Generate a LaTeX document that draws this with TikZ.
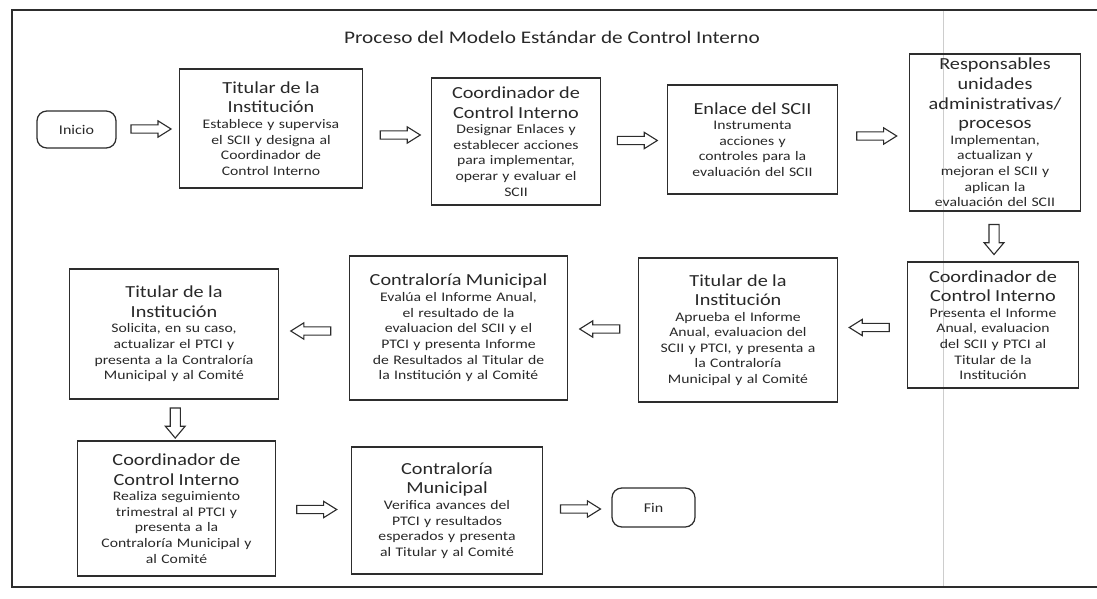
\documentclass[tikz,border=0pt]{standalone}
\usepackage{fontspec}
\setmainfont{Carlito}[FakeStretch=1.2]
\usepackage{tikz}
\usetikzlibrary{calc,shapes.arrows,positioning}
\definecolor{mciInk}{RGB}{40,40,40}
\definecolor{mciLine}{RGB}{45,45,45}
\definecolor{mciScan}{RGB}{205,205,205}
\newcommand{\pasohead}[1]{{\fontsize{12}{13.9}\selectfont #1\par}}

\begin{document}
\begin{tikzpicture}[x=0.025cm,y=-0.025cm,
    paso/.style={draw=mciLine, line width=0.9pt, text=mciInk, align=center,
        inner sep=1pt, font=\fontsize{9.3}{11.1}\selectfont},
    terminal/.style={draw=mciLine, line width=0.9pt, rounded corners=7pt,
        text=mciInk, font=\fontsize{9.5}{11}\selectfont},
    flecha/.style={single arrow, draw=mciLine, line width=0.8pt, minimum height=1cm,
        inner sep=2.5pt, single arrow head extend=2.9pt, single arrow tip angle=64},
    flechaabajo/.style={flecha, minimum height=0.75cm, inner sep=3.2pt,
        single arrow head extend=3.4pt, single arrow tip angle=80, shape border rotate=270}]

    \useasboundingbox (0,0) rectangle (1097,598);

    % frame of the scanned page
    \draw[mciScan, line width=0.6pt] (943,10) -- (943,587);
    \draw[mciLine, line width=1pt] (1097,10) -- (12,10) -- (12,587) -- (1097,587);

    % title
    \node[text=mciInk, font=\fontsize{12.6}{14}\selectfont] (titulo) at (552,37)
        {Proceso del Modelo Estándar de Control Interno};

    % first row
    \node[terminal, minimum width=1.975cm, minimum height=0.925cm] (inicio) at (76.5,129.5) {Inicio};

    \node[paso, text width=4.5cm, minimum height=2.975cm] (tit1) at (271,128.5)
        {\pasohead{Titular de la\\Institución}
         Establece y supervisa\\el SCII y designa al\\Coordinador de\\Control Interno};

    \node[paso, text width=4.15cm, minimum height=3.175cm] (coord1) at (516,141.5)
        {\pasohead{Coordinador de\\Control Interno}
         Designar Enlaces y\\establecer acciones\\para implementar,\\operar y evaluar el\\SCII};

    \node[paso, text width=4.17cm, minimum height=2.725cm] (enlace) at (752.5,139.5)
        {\pasohead{Enlace del SCII}
         Instrumenta\\acciones y\\controles para la\\evaluación del SCII};

    \node[paso, text width=4.2cm, minimum height=3.925cm] (resp) at (995,132.5)
        {\pasohead{Responsables\\unidades\\administrativas/\\procesos}
         Implementan,\\actualizan y\\mejoran el SCII y\\aplican la\\evaluación del SCII};

    % second row
    \node[paso, text width=4.2cm, minimum height=3.15cm] (coord2) at (993,325)
        {\pasohead{Coordinador de\\Control Interno}
         Presenta el Informe\\Anual, evaluacion\\del SCII y PTCI al\\Titular de la\\Institución};

    \node[paso, text width=4.9cm, minimum height=3.6cm] (tit2) at (738,330)
        {\pasohead{Titular de la\\Institución}
         Aprueba el Informe\\Anual, evaluacion del\\SCII y PTCI, y presenta a\\la Contraloría\\Municipal y al Comité};

    \node[paso, text width=5.37cm, minimum height=3.6cm] (contr1) at (458.5,328)
        {\pasohead{Contraloría Municipal}
         Evalúa el Informe Anual,\\el resultado de la\\evaluacion del SCII y el\\PTCI y presenta Informe\\de Resultados al Titular de\\la Institución y al Comité};

    \node[paso, text width=5.15cm, minimum height=3.25cm] (tit3) at (174,334)
        {\pasohead{Titular de la\\Institución}
         Solicita, en su caso,\\actualizar el PTCI y\\presenta a la Contraloría\\Municipal y al Comité};

    % third row
    \node[paso, text width=4.87cm, minimum height=3.375cm] (coord3) at (176.5,508.5)
        {\pasohead{Coordinador de\\Control Interno}
         Realiza seguimiento\\trimestral al PTCI y\\presenta a la\\Contraloría Municipal y\\al Comité};

    \node[paso, text width=4.7cm, minimum height=3.175cm] (contr2) at (447,510.5)
        {\pasohead{Contraloría\\Municipal}
         Verifica avances del\\PTCI y resultados\\esperados y presenta\\al Titular y al Comité};

    \node[terminal, minimum width=2.075cm, minimum height=0.975cm] (fin) at (653.5,507.5) {Fin};

    % block arrows
    \node[flecha] (f1) at ($(inicio.east)!.5!(tit1.west)$) {};
    \node[flecha] (f2) at ($(tit1.east)!.5!(coord1.west)$) {};
    \node[flecha] (f3) at ($(coord1.east)!.5!(enlace.west)$) {};
    \node[flecha] (f4) at ($(enlace.east)!.5!(resp.west)$) {};
    \node[flechaabajo] (f5) at ($(resp.south)!.5!(coord2.north)$) {};
    \node[flecha, shape border rotate=180] (f6) at ($(coord2.west)!.5!(tit2.east)$) {};
    \node[flecha, shape border rotate=180] (f7) at ($(tit2.west)!.5!(contr1.east)$) {};
    \node[flecha, shape border rotate=180] (f8) at ($(contr1.west)!.5!(tit3.east)$) {};
    \node[flechaabajo] (f9) at ($(tit3.south)!.5!(coord3.north)$) {};
    \node[flecha] (f10) at ($(coord3.east)!.5!(contr2.west)$) {};
    \node[flecha] (f11) at ($(contr2.east)!.5!(fin.west)$) {};

\end{tikzpicture}
\end{document}
